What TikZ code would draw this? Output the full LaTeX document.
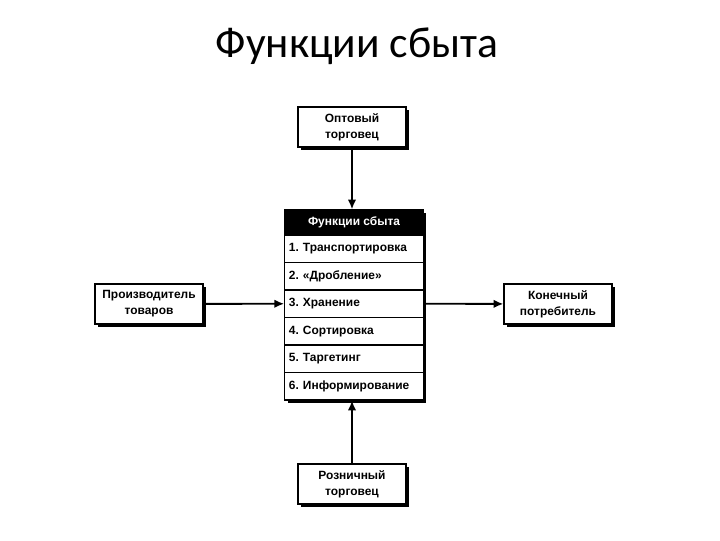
\documentclass[tikz,border=0pt]{standalone}
\usepackage{fontspec}
\setmainfont{Liberation Sans}
\newfontfamily\titlefont{Carlito}
\usetikzlibrary{positioning,shadows,arrows.meta}
\tikzset{
  shade box/.style={drop shadow={shadow xshift=2.2pt,shadow yshift=-2.2pt,fill=black,opacity=1}},
  agent/.style={draw,line width=0.8pt,fill=white,shade box,minimum width=2.7cm,minimum height=1cm,
    align=center,inner sep=1pt,font=\fontsize{8.5}{11.5}\selectfont\bfseries},
  head/.style={draw,line width=0.8pt,fill=black,text=white,minimum width=3.45cm,minimum height=0.625cm,
    inner sep=2pt,font=\fontsize{8.5}{10}\selectfont\bfseries},
  task/.style={draw,line width=0.8pt,fill=white,minimum width=3.45cm,minimum height=0.6875cm,
    text width=3.25cm,align=left,inner xsep=3pt,inner ysep=2pt,font=\fontsize{8.5}{10}\selectfont\bfseries\frenchspacing},
  flow/.style={line width=1.3pt,-{Latex[length=7pt,width=6pt]}}
}
\begin{document}
\begin{tikzpicture}[x=0.025cm,y=-0.025cm]
	\useasboundingbox (0,0) rectangle (720,540);
	\draw (357,46) node(title) {\titlefont\fontsize{31}{37}\selectfont Функции сбыта};
	% central box
	\node[shade box,draw,fill=white,minimum width=3.45cm,minimum height=4.75cm] (frame) at (354,305) {};
	\node[head] (hd) at (354,222.5) {Функции сбыта};
	\foreach \n/\txt in {1/1. Транспортировка,2/2. «Дробление»,3/3. Хранение,
	                     4/4. Сортировка,5/5. Таргетинг,6/6. Информирование}
		\node[task] (r\n) at (354,{235+27.5*\n-13.75}) {\txt};
	% outer parties
	\node[agent] (whole) at (352,127) {Оптовый\\торговец};
	\node[agent] (retail) at (352,484) {Розничный\\торговец};
	\node[agent] (maker) at (149,304) {Производитель\\товаров};
	\node[agent] (buyer) at (558,304) {Конечный\\потребитель};
	\draw[flow] (whole) -- (whole|-hd.north);
	\draw[flow] (retail) -- (retail|-r6.south);
	\draw[flow] (maker) -- (r3.west);
	\draw[flow] (r3.east) -- (buyer);
\end{tikzpicture}
\end{document}
